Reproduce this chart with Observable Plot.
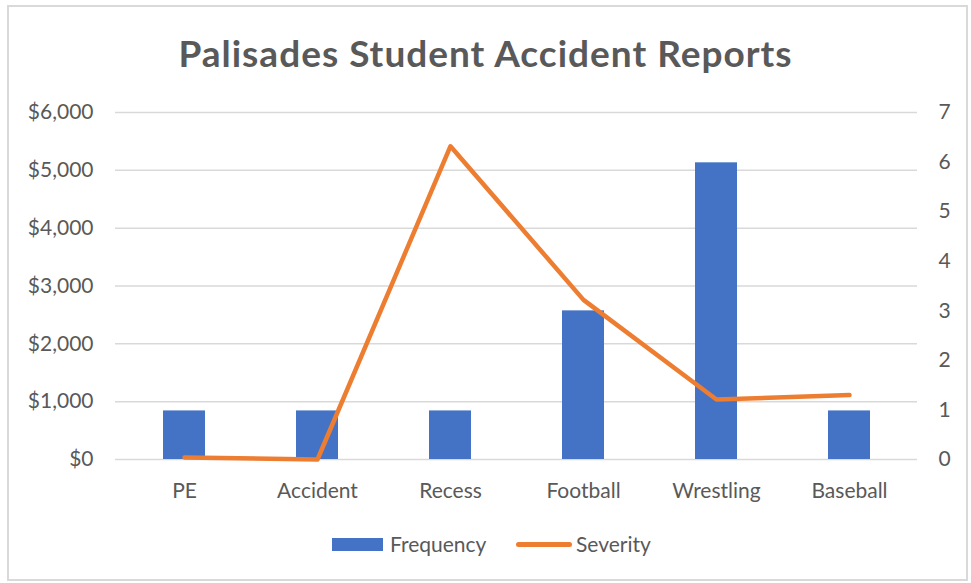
<!DOCTYPE html>
<html><head><meta charset="utf-8">
<script src="https://cdn.jsdelivr.net/npm/d3@7"></script>
<script src="https://cdn.jsdelivr.net/npm/@observablehq/plot@0.6"></script>
<style>
body{margin:0;background:#fff;font-family:Lato,sans-serif;}
#frame{position:absolute;left:7px;top:5px;width:961px;height:576px;border:2px solid #d9d9d9;box-sizing:border-box;}
#title{position:absolute;left:0;width:971px;top:31px;line-height:44px;text-align:center;font-weight:bold;font-size:37px;letter-spacing:1px;color:#595959;white-space:nowrap;}
#chart{position:absolute;left:0;top:90px;}
.leg{position:absolute;font-size:21px;line-height:24px;color:#595959;white-space:nowrap;}
.sw{position:absolute;}
</style>
</head><body>
<div id="frame"></div>
<div id="title">Palisades Student Accident Reports</div>
<div id="chart"></div>
<div id="legend"></div>
<script>
const categories = ["PE", "Accident", "Recess", "Football", "Wrestling", "Baseball"];
const frequency = [840, 840, 840, 2570, 5130, 840];
const severity = [0.04, 0, 6.32, 3.22, 1.21, 1.3];
const leftTicks = [0, 1000, 2000, 3000, 4000, 5000, 6000];
const rightTicks = [0, 1, 2, 3, 4, 5, 6, 7];
const seriesNames = ["Frequency", "Severity"];
const colors = ["#4472c4", "#ed7d31"];

const yMax = 6000, sevMax = 7;
const toLeft = v => v * yMax / sevMax;
const data = categories.map((c, i) => ({category: c, frequency: frequency[i], severity: severity[i]}));

const chart = Plot.plot({
  width: 971, height: 414,
  marginTop: 22, marginBottom: 45, marginLeft: 115, marginRight: 54,
  x: {domain: categories, paddingInner: 0.686, paddingOuter: 0.343, axis: null},
  y: {domain: [0, yMax], axis: null},
  style: {fontFamily: "Lato, sans-serif", fontSize: "21px", color: "#595959", background: "transparent", overflow: "visible"},
  marks: [
    Plot.ruleY(leftTicks, {stroke: "#d9d9d9", strokeWidth: 1.5}),
    Plot.axisY(leftTicks, {anchor: "left", label: null, tickSize: 0, tickPadding: 22, fontSize: 21, tickFormat: d3.format("$,.0f")}),
    Plot.axisY(rightTicks.map(toLeft), {anchor: "right", label: null, tickSize: 0, tickPadding: 21, fontSize: 21, tickFormat: d => String(Math.round(d * sevMax / yMax))}),
    Plot.axisX({label: null, tickSize: 0, tickPadding: 24, fontSize: 21}),
    Plot.barY(data, {x: "category", y: "frequency", fill: colors[0]}),
    Plot.line(data, {x: "category", y: d => toLeft(d.severity), stroke: colors[1], strokeWidth: 4.5, strokeLinejoin: "round", strokeLinecap: "round"})
  ]
});
document.getElementById("chart").appendChild(chart);

const legend = document.getElementById("legend");
legend.innerHTML =
  `<div class="sw" style="left:332px;top:538px;width:51px;height:13px;background:${colors[0]}"></div>` +
  `<div class="leg" style="left:390px;top:532px">${seriesNames[0]}</div>` +
  `<div class="sw" style="left:516px;top:542px;width:56px;height:5px;border-radius:3px;background:${colors[1]}"></div>` +
  `<div class="leg" style="left:576px;top:532px">${seriesNames[1]}</div>`;
</script>
</body></html>
